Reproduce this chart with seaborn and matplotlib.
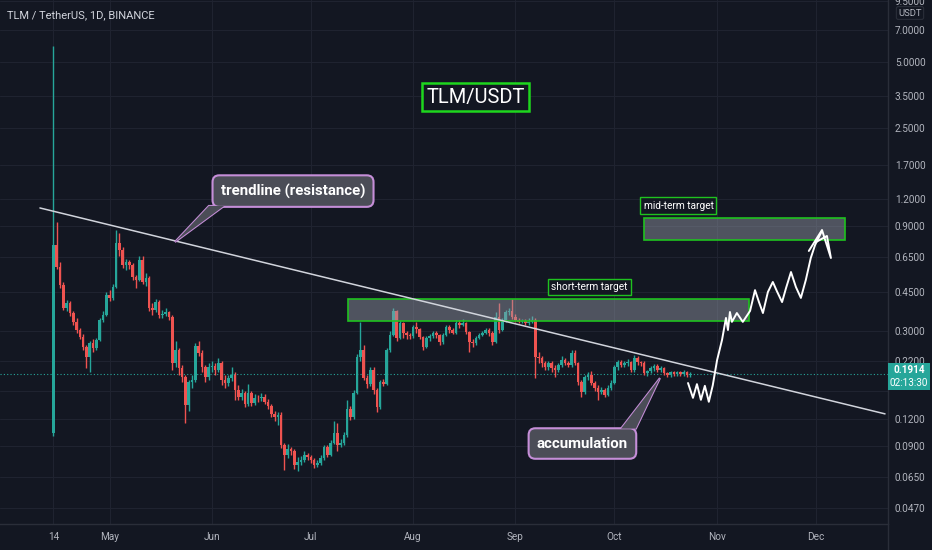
import numpy as np
import pandas as pd
import matplotlib.pyplot as plt
import matplotlib.patches as mpatches
import seaborn as sns

BG = "#131722"
GRID = "#1f2330"
TXT = "#b2b5be"
UP = "#26a69a"
DOWN = "#ef5350"
GREEN = "#1fc21f"
VIOLET = "#c58ed8"
BOXGRAY = "#4b4d57"

sns.set_theme(style="dark", rc={"axes.facecolor": BG, "figure.facecolor": BG})
plt.rcParams["font.family"] = ["Roboto", "DejaVu Sans"]

# daily candles from 2021-04-14, open = previous close
first_open = 0.103
close = [
    0.738, 0.586, 0.486, 0.382, 0.402, 0.363, 0.330, 0.303, 0.282, 0.254,
    0.229, 0.264, 0.251, 0.273, 0.337, 0.355, 0.438, 0.425, 0.476, 0.754,
    0.700, 0.598, 0.618, 0.598, 0.528, 0.512, 0.631, 0.501, 0.523, 0.382,
    0.374, 0.406, 0.355, 0.359, 0.366, 0.348, 0.214, 0.246, 0.203, 0.185,
    0.138, 0.176, 0.180, 0.256, 0.239, 0.206, 0.185, 0.206, 0.208, 0.199,
    0.214, 0.180, 0.174, 0.184, 0.189, 0.162, 0.151, 0.157, 0.140, 0.157,
    0.141, 0.149, 0.148, 0.151, 0.143, 0.137, 0.126, 0.122, 0.125, 0.0910,
    0.0819, 0.0872, 0.0854, 0.0738, 0.0762, 0.0777, 0.0819, 0.0802, 0.0777, 0.0738,
    0.0753, 0.0793, 0.0891, 0.0819, 0.0929, 0.103, 0.0910, 0.0929, 0.101, 0.133,
    0.122, 0.157, 0.229, 0.246, 0.184, 0.172, 0.199, 0.162, 0.136, 0.176,
    0.172, 0.246, 0.288, 0.370, 0.279, 0.327, 0.294, 0.288, 0.285, 0.313,
    0.307, 0.282, 0.254, 0.279, 0.285, 0.294, 0.288, 0.267, 0.288, 0.313,
    0.303, 0.294, 0.327, 0.320, 0.327, 0.297, 0.267, 0.264, 0.279, 0.288,
    0.294, 0.303, 0.294, 0.267, 0.348, 0.303, 0.337, 0.366, 0.370, 0.348,
    0.337, 0.330, 0.334, 0.327, 0.330, 0.337, 0.229, 0.226, 0.214, 0.206,
    0.214, 0.203, 0.199, 0.210, 0.221, 0.214, 0.210, 0.239, 0.214, 0.176,
    0.159, 0.185, 0.189, 0.174, 0.165, 0.159, 0.162, 0.154, 0.165, 0.174,
    0.206, 0.217, 0.210, 0.214, 0.217, 0.199, 0.226, 0.217, 0.214, 0.193,
    0.197, 0.203, 0.208, 0.199, 0.203, 0.193, 0.189, 0.195, 0.191, 0.195,
    0.191, 0.195, 0.189, 0.1914,
]
high = [
    5.90, 0.94, 0.62, 0.50, 0.415, 0.41, 0.37, 0.345, 0.31, 0.29,
    0.26, 0.27, 0.275, 0.28, 0.345, 0.37, 0.45, 0.46, 0.49, 0.86,
    0.84, 0.72, 0.64, 0.63, 0.61, 0.54, 0.66, 0.655, 0.55, 0.535,
    0.40, 0.42, 0.415, 0.375, 0.38, 0.37, 0.355, 0.27, 0.25, 0.21,
    0.19, 0.18, 0.19, 0.265, 0.27, 0.245, 0.21, 0.215, 0.22, 0.215,
    0.225, 0.22, 0.19, 0.19, 0.205, 0.195, 0.17, 0.163, 0.16, 0.172,
    0.16, 0.155, 0.153, 0.156, 0.155, 0.147, 0.14, 0.13, 0.129, 0.128,
    0.093, 0.092, 0.089, 0.087, 0.080, 0.081, 0.085, 0.084, 0.082, 0.079,
    0.078, 0.082, 0.091, 0.091, 0.096, 0.117, 0.115, 0.097, 0.104, 0.146,
    0.137, 0.162, 0.235, 0.33, 0.26, 0.19, 0.205, 0.205, 0.165, 0.18,
    0.182, 0.25, 0.30, 0.38, 0.372, 0.335, 0.33, 0.30, 0.295, 0.32,
    0.33, 0.31, 0.285, 0.285, 0.29, 0.30, 0.30, 0.29, 0.295, 0.32,
    0.318, 0.31, 0.335, 0.335, 0.34, 0.33, 0.30, 0.275, 0.285, 0.295,
    0.30, 0.31, 0.31, 0.30, 0.365, 0.40, 0.345, 0.375, 0.38, 0.42,
    0.36, 0.345, 0.34, 0.34, 0.345, 0.35, 0.345, 0.24, 0.23, 0.22,
    0.22, 0.22, 0.21, 0.215, 0.23, 0.225, 0.22, 0.245, 0.245, 0.217,
    0.18, 0.19, 0.195, 0.197, 0.178, 0.17, 0.167, 0.165, 0.17, 0.18,
    0.21, 0.222, 0.222, 0.22, 0.223, 0.22, 0.234, 0.23, 0.22, 0.218,
    0.20, 0.207, 0.212, 0.212, 0.207, 0.206, 0.196, 0.198, 0.198, 0.198,
    0.197, 0.199, 0.198, 0.195,
]
low = [
    0.100, 0.575, 0.47, 0.372, 0.37, 0.35, 0.32, 0.295, 0.275, 0.245,
    0.203, 0.195, 0.24, 0.245, 0.27, 0.33, 0.35, 0.41, 0.415, 0.47,
    0.66, 0.58, 0.57, 0.575, 0.51, 0.47, 0.505, 0.49, 0.48, 0.37,
    0.355, 0.365, 0.345, 0.345, 0.35, 0.335, 0.20, 0.205, 0.19, 0.175,
    0.114, 0.13, 0.165, 0.175, 0.23, 0.195, 0.175, 0.18, 0.195, 0.19,
    0.195, 0.17, 0.165, 0.168, 0.178, 0.145, 0.145, 0.146, 0.135, 0.137,
    0.137, 0.138, 0.143, 0.144, 0.139, 0.133, 0.122, 0.117, 0.112, 0.088,
    0.070, 0.079, 0.082, 0.071, 0.0695, 0.074, 0.076, 0.078, 0.075, 0.0715,
    0.072, 0.074, 0.078, 0.080, 0.081, 0.092, 0.085, 0.089, 0.091, 0.099,
    0.118, 0.12, 0.155, 0.22, 0.18, 0.165, 0.168, 0.155, 0.128, 0.133,
    0.168, 0.17, 0.24, 0.285, 0.27, 0.275, 0.28, 0.275, 0.275, 0.28,
    0.295, 0.275, 0.245, 0.25, 0.27, 0.28, 0.28, 0.26, 0.262, 0.285,
    0.295, 0.29, 0.29, 0.31, 0.315, 0.29, 0.24, 0.255, 0.26, 0.275,
    0.285, 0.29, 0.285, 0.26, 0.265, 0.295, 0.30, 0.33, 0.355, 0.34,
    0.33, 0.325, 0.325, 0.32, 0.32, 0.325, 0.184, 0.215, 0.205, 0.20,
    0.20, 0.195, 0.185, 0.195, 0.205, 0.21, 0.205, 0.205, 0.21, 0.17,
    0.151, 0.155, 0.18, 0.17, 0.16, 0.146, 0.155, 0.15, 0.152, 0.162,
    0.172, 0.20, 0.205, 0.205, 0.208, 0.195, 0.196, 0.21, 0.208, 0.19,
    0.188, 0.193, 0.198, 0.195, 0.196, 0.19, 0.185, 0.186, 0.187, 0.188,
    0.187, 0.188, 0.185, 0.186,
]
last_price = 0.1914

tick_days = [0, 17, 48, 78, 109, 140, 170, 201, 231]
tick_labels = ["14", "May", "Jun", "Jul", "Aug", "Sep", "Oct", "Nov", "Dec"]
price_ticks = [0.047, 0.065, 0.09, 0.12, 0.16, 0.22, 0.30, 0.45, 0.65, 0.90,
               1.2, 1.7, 2.5, 3.5, 5.0, 7.0, 9.5]
hidden_ticks = [0.16]

# drawings (day index, price)
trend_days = [-4.1, 252.0]
trend_prices = [1.087, 0.126]
short_zone = (89.2, 210.8, 0.333, 0.419)
mid_zone = (178.9, 239.8, 0.777, 0.978)
path_days = [192.3, 193.8, 195.0, 196.2, 197.4, 198.6, 199.8, 201.1, 202.6, 203.8,
             204.4, 205.0, 205.6, 207.1, 208.9, 211.1, 212.6, 213.8, 215.0, 216.5,
             218.0, 219.2, 220.8, 222.0, 223.5, 225.0, 226.5, 228.0, 229.5, 230.8,
             232.9]
path_prices = [0.174, 0.149, 0.172, 0.146, 0.169, 0.143, 0.170, 0.221, 0.273, 0.344,
               0.303, 0.366, 0.330, 0.362, 0.330, 0.370, 0.460, 0.406, 0.362, 0.451,
               0.501, 0.456, 0.406, 0.470, 0.556, 0.475, 0.424, 0.512, 0.644, 0.738,
               0.856]
head_days = [228.9, 232.9, 235.6, 234.4, 231.1]
head_prices = [0.693, 0.863, 0.644, 0.811, 0.761]

opens = [first_open] + close[:-1]
df = pd.DataFrame({"day": np.arange(len(close)), "open": opens, "close": close,
                   "high": high, "low": low})
df["up"] = df["close"] >= df["open"]
df["color"] = np.where(df["up"], UP, DOWN)
df["bottom"] = df[["open", "close"]].min(axis=1)
df["height"] = (df["close"] - df["open"]).abs()

fig = plt.figure(figsize=(9.32, 5.5), dpi=100)
ax = fig.add_axes([0, 26 / 550, 888 / 932, 524 / 550])
ax.set_facecolor(BG)
ax.set_yscale("log")
ax.set_xlim(-16.2, 252.9)
ax.set_ylim(0.0398, 9.58)

for d in tick_days:
    ax.axvline(d, color=GRID, lw=0.8, zorder=0)
for p in price_ticks:
    ax.axhline(p, color=GRID, lw=0.8, zorder=0)

ax.vlines(df["day"], df["low"], df["high"], colors=df["color"], lw=1.0, zorder=2)
ax.bar(df["day"], df["height"], bottom=df["bottom"], width=0.78,
       color=df["color"], linewidth=0, zorder=3)

ax.axhline(last_price, color=UP, lw=0.8, ls=(0, (1, 2)), zorder=1)

# target zones
for d0, d1, p0, p1 in (short_zone, mid_zone):
    ax.add_patch(mpatches.Rectangle((d0, p0), d1 - d0, p1 - p0,
                                    facecolor=(0.6, 0.62, 0.67, 0.45),
                                    edgecolor=GREEN, lw=1.2, zorder=4))

sns.lineplot(x=trend_days, y=trend_prices, ax=ax, color="#d1d4dc", lw=1.1,
             zorder=5, legend=False)
sns.lineplot(x=path_days, y=path_prices, ax=ax, color="white", lw=1.4, sort=False,
             estimator=None, zorder=6, legend=False)
sns.lineplot(x=head_days, y=head_prices, ax=ax, color="white", lw=1.4, sort=False,
             estimator=None, zorder=6, legend=False)

ax.text(162.4, 0.475, "short-term target", color="white", fontsize=7.3,
        ha="center", va="center", zorder=7,
        bbox=dict(boxstyle="square,pad=0.3", fc=BG, ec=GREEN, lw=1))
ax.text(189.4, 1.115, "mid-term target", color="white", fontsize=7.3,
        ha="center", va="center", zorder=7,
        bbox=dict(boxstyle="square,pad=0.3", fc=BG, ec=GREEN, lw=1))
ax.text(128.0, 3.47, "TLM/USDT", color="white", fontsize=14.5,
        ha="center", va="center", zorder=7,
        bbox=dict(boxstyle="square,pad=0.22", fc=BG, ec="#1ed61e", lw=1.8))


def callout(x, y, text, pointer):
    ax.add_patch(mpatches.Polygon(pointer, closed=True, fc=BOXGRAY, ec=VIOLET,
                                  lw=1.5, zorder=7))
    ax.text(x, y, text, color="white", fontsize=10.8, fontweight="bold",
            ha="center", va="center", zorder=8,
            bbox=dict(boxstyle="round,pad=0.55,rounding_size=0.45", fc=BOXGRAY,
                      ec=VIOLET, lw=1.5))
    ax.add_patch(mpatches.Polygon(pointer, closed=True, fc=BOXGRAY, ec="none",
                                  zorder=9))


callout(72.6, 1.297, "trendline (resistance)",
        [(47.1, 1.11), (51.7, 1.11), (36.8, 0.761)])
callout(160.3, 0.0924, "accumulation",
        [(172.0, 0.108), (176.5, 0.108), (183.8, 0.1833)])

ax.text(0.008, 1 - 15 / 524, "TLM / TetherUS, 1D, BINANCE", transform=ax.transAxes,
        color="#d1d4dc", fontsize=8, ha="left", va="center")

ax.set_xticks(tick_days)
ax.set_xticklabels(tick_labels)
ax.yaxis.tick_right()
ax.set_yticks(price_ticks)
ax.set_yticklabels(["" if p in hidden_ticks else f"{p:.4f}" for p in price_ticks])
ax.yaxis.set_minor_locator(plt.NullLocator())
ax.tick_params(axis="x", colors=TXT, labelsize=7.2, length=0, pad=6)
ax.tick_params(axis="y", colors=TXT, labelsize=7.2, length=0, pad=5)
ax.grid(False)
for side in ["top", "left"]:
    ax.spines[side].set_visible(False)
for side in ["right", "bottom"]:
    ax.spines[side].set_color("#2a2e39")
    ax.spines[side].set_linewidth(1)

# last price badge on the price scale
fig.add_artist(mpatches.Rectangle((888 / 932, 1 - 390 / 550), 42 / 932, 27 / 550,
                                  transform=fig.transFigure, fc=UP, ec="none"))
fig.text(909 / 932, 1 - 370 / 550, f"{last_price:.4f}", color="white", fontsize=7.2,
         fontweight="bold", ha="center", va="center")
fig.text(909 / 932, 1 - 383 / 550, "02:13:30", color="white", fontsize=7.2,
         ha="center", va="center")
fig.text(910 / 932, 1 - 13 / 550, "USDT", color=TXT, fontsize=6.8, ha="center",
         va="center", bbox=dict(boxstyle="round,pad=0.2", fc=BG, ec="#2a2e39", lw=0.8))
fig.add_artist(plt.Line2D([888 / 932, 888 / 932], [0, 26 / 550],
                          transform=fig.transFigure, color="#2a2e39", lw=1))

fig.savefig("out.png", dpi=100, facecolor=BG)
